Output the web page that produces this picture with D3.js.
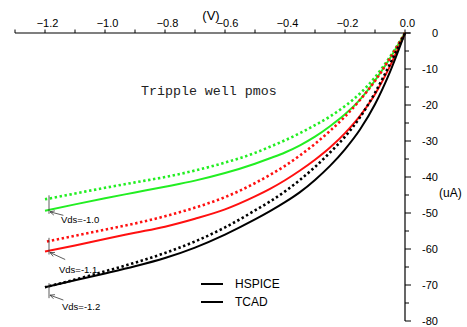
<!DOCTYPE html>
<html>
<head>
<meta charset="utf-8">
<script src="https://cdn.jsdelivr.net/npm/d3@7"></script>
<style>
  html, body { margin: 0; padding: 0; background: #fff; }
  svg { display: block; }
</style>
</head>
<body>
<svg id="chart" width="467" height="327"></svg>
<script>
// Gate voltage sweep (V)
const vgs = [0, -0.05, -0.1, -0.15, -0.2, -0.25, -0.3, -0.35, -0.4, -0.45, -0.5, -0.6, -0.7, -0.8, -0.9, -1.0, -1.1, -1.2];

// Drain current (uA), HSPICE (dotted) and TCAD (solid) for each Vds
const hspiceVds10 = [0, -6.6, -12.3, -16.8, -20.3, -23.2, -25.6, -27.8, -29.8, -31.6, -33.3, -36.0, -38.2, -40.0, -41.5, -43.0, -44.6, -46.2];
const tcadVds10   = [0, -7.0, -13.2, -18.5, -22.6, -25.9, -28.8, -31.2, -33.2, -34.8, -36.3, -38.9, -41.0, -42.7, -44.3, -45.9, -47.6, -49.4];
const hspiceVds11 = [0, -7.0, -13.3, -18.6, -23.2, -27.2, -30.8, -34.0, -36.9, -39.4, -41.7, -45.6, -48.5, -50.9, -52.9, -54.6, -56.3, -58.0];
const tcadVds11   = [0, -9.2, -17.0, -23.0, -27.8, -31.8, -35.2, -38.2, -40.9, -43.3, -45.4, -49.0, -51.6, -53.8, -55.5, -57.2, -59.0, -60.7];
const hspiceVds12 = [0, -8.6, -16.6, -23.4, -28.8, -33.2, -37.2, -40.8, -44.0, -46.8, -49.3, -54.0, -57.9, -61.1, -63.8, -66.2, -68.5, -70.6];
const tcadVds12   = [0, -10.8, -19.8, -26.8, -32.3, -36.9, -40.8, -44.2, -47.0, -49.5, -51.8, -56.0, -59.6, -62.5, -64.8, -66.8, -68.7, -70.6];

const xTicks = [-1.2, -1.0, -0.8, -0.6, -0.4, -0.2, 0.0];
const yTicks = [0, -10, -20, -30, -40, -50, -60, -70, -80];
const vdsLabels = ["Vds=-1.0", "Vds=-1.1", "Vds=-1.2"];
const legendLabels = ["HSPICE", "TCAD"];

const svg = d3.select("#chart");
const x = d3.scaleLinear().domain([-1.3, 0]).range([15, 405]);
const y = d3.scaleLinear().domain([0, -80]).range([33, 321]);
const font = "Arial, 'Liberation Sans', sans-serif";

// Top voltage axis
const xAxis = svg.append("g").attr("transform", `translate(0,${y(0)})`);
xAxis.append("line").attr("x1", x(-1.3)).attr("x2", x(0) + 5)
  .attr("stroke", "#000").attr("stroke-width", 1.2);
xAxis.selectAll("line.minor").data(d3.range(-13, 1).map(d => d / 10)).join("line")
  .attr("class", "minor")
  .attr("x1", d => x(d)).attr("x2", d => x(d)).attr("y1", 0).attr("y2", -3.5)
  .attr("stroke", "#000").attr("stroke-width", 1);
xAxis.selectAll("text").data(xTicks).join("text")
  .attr("x", d => x(d) + 2.5).attr("y", -6)
  .attr("text-anchor", "middle").attr("font-family", font).attr("font-size", 11)
  .text(d => d3.format(".1f")(d));
svg.append("text").attr("x", 211).attr("y", 20).attr("text-anchor", "middle")
  .attr("font-family", font).attr("font-size", 13).text("(V)");

// Right current axis
const yAxis = svg.append("g").attr("transform", `translate(${x(0)},0)`);
yAxis.append("line").attr("y1", y(0)).attr("y2", y(-80))
  .attr("stroke", "#000").attr("stroke-width", 1.2);
yAxis.selectAll("line.tick").data(d3.range(0, -81, -5)).join("line")
  .attr("class", "tick")
  .attr("x1", 0).attr("x2", d => d % 10 === 0 ? 6 : 4)
  .attr("y1", d => y(d)).attr("y2", d => y(d))
  .attr("stroke", "#000").attr("stroke-width", 1);
yAxis.selectAll("text").data(yTicks).join("text")
  .attr("x", 33).attr("y", d => y(d)).attr("dy", "0.35em")
  .attr("text-anchor", "end").attr("font-family", font).attr("font-size", 11)
  .text(d => d);
svg.append("text").attr("x", 439).attr("y", 197)
  .attr("font-family", font).attr("font-size", 12).text("(uA)");

// Curves
const line = d3.line().x(d => x(d[0])).y(d => y(d[1])).curve(d3.curveMonotoneX);
const series = [
  { v: hspiceVds10, color: "#22ee22", dotted: true },
  { v: tcadVds10,   color: "#22ee22", dotted: false },
  { v: hspiceVds11, color: "#ff1010", dotted: true },
  { v: tcadVds11,   color: "#ff1010", dotted: false },
  { v: hspiceVds12, color: "#000000", dotted: true },
  { v: tcadVds12,   color: "#000000", dotted: false }
];
svg.append("g").selectAll("path").data(series).join("path")
  .attr("d", s => line(vgs.map((v, i) => [v, s.v[i]])))
  .attr("fill", "none")
  .attr("stroke", s => s.color)
  .attr("stroke-width", s => s.dotted ? 2.6 : 2)
  .attr("stroke-dasharray", s => s.dotted ? "2.4,2.6" : null);

// Vds markers with arrows and labels
const vEnd = vgs[vgs.length - 1];
const markers = [
  { top: hspiceVds10, bot: tcadVds10, dx: 16, dy: 10 },
  { top: hspiceVds11, bot: tcadVds11, dx: 18, dy: 20 },
  { top: tcadVds12,   bot: tcadVds12, dx: 16, dy: 14 }
];
const mg = svg.append("g").attr("stroke", "#333").attr("stroke-width", 0.8);
markers.forEach(m => {
  const mx = x(vEnd) + 4;
  const yTop = y(m.top[m.top.length - 1]) - 4;
  const yBot = y(m.bot[m.bot.length - 1]) + (m.top === m.bot ? 11 : 3);
  mg.append("line").attr("x1", mx).attr("x2", mx).attr("y1", yTop).attr("y2", yBot);
  const tipY = m.top === m.bot ? yBot - 3 : y(m.bot[m.bot.length - 1]) + 1;
  const tailX = mx + m.dx * 0.9, tailY = tipY + m.dy * 0.35;
  mg.append("line").attr("x1", mx + 1).attr("y1", tipY).attr("x2", tailX).attr("y2", tailY);
  const ang = Math.atan2(tailY - tipY, tailX - mx - 1);
  const ah = 5;
  mg.append("path")
    .attr("d", `M${mx + 1 + ah * Math.cos(ang - 0.45)},${tipY + ah * Math.sin(ang - 0.45)} L${mx + 1},${tipY} L${mx + 1 + ah * Math.cos(ang + 0.45)},${tipY + ah * Math.sin(ang + 0.45)}`)
    .attr("fill", "none");
});
svg.append("text").attr("x", 61).attr("y", 223).attr("font-family", font).attr("font-size", 9.5).text(vdsLabels[0]);
svg.append("text").attr("x", 59).attr("y", 273).attr("font-family", font).attr("font-size", 9.5).text(vdsLabels[1]);
svg.append("text").attr("x", 62).attr("y", 310).attr("font-family", font).attr("font-size", 9.5).text(vdsLabels[2]);

// Title
svg.append("text").attr("x", 141).attr("y", 95)
  .attr("font-family", "'Liberation Mono', monospace").attr("font-size", 13.3)
  .attr("fill", "#222").text("Tripple well pmos");

// Legend
const lg = svg.append("g");
legendLabels.forEach((t, i) => {
  const ly = 284 + i * 18;
  lg.append("line").attr("x1", 201).attr("x2", 223).attr("y1", ly).attr("y2", ly)
    .attr("stroke", "#000").attr("stroke-width", 2);
  lg.append("text").attr("x", 235).attr("y", ly).attr("dy", "0.36em")
    .attr("font-family", font).attr("font-size", 12).text(t);
});
</script>
</body>
</html>
